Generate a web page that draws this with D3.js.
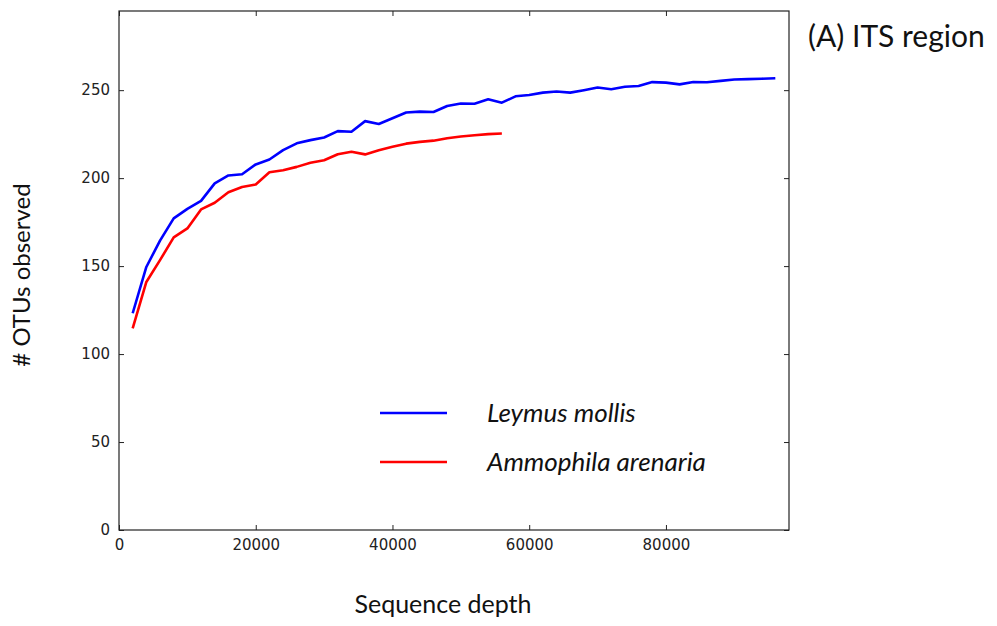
<!DOCTYPE html>
<html><head><meta charset="utf-8">
<script src="https://cdn.jsdelivr.net/npm/d3@7"></script>
<style>body{margin:0;background:#fff;} svg{display:block;}</style>
</head><body>
<script>
const depths = [2000,4000,6000,8000,10000,12000,14000,16000,18000,20000,22000,24000,26000,28000,30000,32000,34000,36000,38000,40000,42000,44000,46000,48000,50000,52000,54000,56000,58000,60000,62000,64000,66000,68000,70000,72000,74000,76000,78000,80000,82000,84000,86000,88000,90000,92000,94000,96000];
const leymus = [123.2,149.5,164.5,177.1,182.5,187.1,197,201.5,202.2,207.8,210.6,215.9,219.8,221.6,223.1,226.7,226.4,232.4,230.8,234,237.3,237.8,237.6,241,242.4,242.3,244.8,242.9,246.5,247.3,248.6,249.2,248.6,250,251.5,250.5,251.9,252.4,254.6,254.3,253.3,254.6,254.5,255.3,256.1,256.3,256.5,256.8];
const ammophila = [114.6,141,153.4,166.3,171.4,182.2,186,192,195,196.4,203.3,204.5,206.4,208.7,210.2,213.6,215,213.5,215.9,217.8,219.6,220.6,221.3,222.7,223.7,224.4,225,225.4];
const seriesNames = ["Leymus mollis","Ammophila arenaria"];
const xTicks = [0,20000,40000,60000,80000];
const yTicks = [0,50,100,150,200,250];

const W=997,H=626;
const m={left:119,right:789,top:11,bottom:530};
const svg=d3.select("body").append("svg").attr("width",W).attr("height",H);
const x=d3.scaleLinear().domain([0,98000]).range([m.left,m.right]);
const y=d3.scaleLinear().domain([0,295]).range([m.bottom,m.top]);

const tickFont='"DejaVu Sans", sans-serif';
const axColor="#222";
const gB=svg.append("g").attr("transform",`translate(0,${m.bottom})`)
  .call(d3.axisBottom(x).tickValues(xTicks).tickFormat(d3.format("d")).tickSizeInner(-5).tickSizeOuter(0).tickPadding(9));
const gT=svg.append("g").attr("transform",`translate(0,${m.top})`)
  .call(d3.axisTop(x).tickValues(xTicks).tickFormat("").tickSizeInner(-5).tickSizeOuter(0));
const gL=svg.append("g").attr("transform",`translate(${m.left},0)`)
  .call(d3.axisLeft(y).tickValues(yTicks).tickSizeInner(-5).tickSizeOuter(0).tickPadding(9));
const gR=svg.append("g").attr("transform",`translate(${m.right},0)`)
  .call(d3.axisRight(y).tickValues(yTicks).tickFormat("").tickSizeInner(-5).tickSizeOuter(0));
[gB,gT,gL,gR].forEach(g=>{
  g.select(".domain").remove();
  g.selectAll(".tick line").attr("stroke",axColor).attr("stroke-width",1);
  g.selectAll(".tick text").attr("fill","#222").style("font-family",tickFont).style("font-size","15px");
});
svg.append("rect").attr("x",m.left).attr("y",m.top).attr("width",m.right-m.left).attr("height",m.bottom-m.top)
  .attr("fill","none").attr("stroke",axColor).attr("stroke-width",1.2);

const line=d3.line().x((d,i)=>x(depths[i])).y(d=>y(d));
svg.append("path").datum(leymus).attr("d",line).attr("fill","none").attr("stroke","#0000ff").attr("stroke-width",2.6).attr("stroke-linejoin","round");
svg.append("path").datum(ammophila).attr("d",line).attr("fill","none").attr("stroke","#ff0000").attr("stroke-width",2.6).attr("stroke-linejoin","round");

const labFont='Lato, "Open Sans", sans-serif';
const legColors=["#0000ff","#ff0000"];
seriesNames.forEach((n,i)=>{
  const ly=413+i*49;
  svg.append("line").attr("x1",380).attr("x2",447).attr("y1",ly).attr("y2",ly).attr("stroke",legColors[i]).attr("stroke-width",2.6);
  svg.append("text").attr("x",487).attr("y",ly).attr("dy","0.35em").text(n)
    .style("font-family",labFont).style("font-style","italic").style("font-size","26px").attr("fill","#111");
});
svg.append("text").attr("x",443).attr("y",604).attr("dy","0.35em").attr("text-anchor","middle").text("Sequence depth")
  .style("font-family",labFont).style("font-size","25px").attr("fill","#111");
svg.append("text").attr("transform","translate(22,275) rotate(-90)").attr("dy","0.35em").attr("text-anchor","middle").text("# OTUs observed")
  .style("font-family",labFont).style("font-size","24px").attr("fill","#111");
svg.append("text").attr("x",808).attr("y",36).attr("dy","0.35em").text("(A) ITS region")
  .style("font-family",labFont).style("font-size","30px").attr("fill","#111");
</script>
</body></html>
